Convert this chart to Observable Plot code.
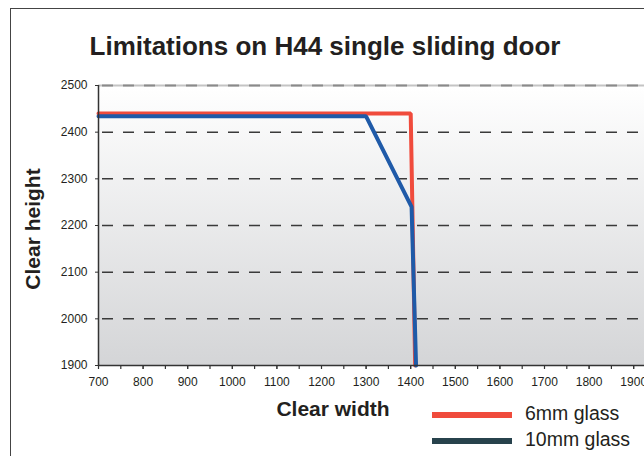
<!DOCTYPE html>
<html>
<head>
<meta charset="utf-8">
<script src="https://cdn.jsdelivr.net/npm/d3@7"></script>
<script src="https://cdn.jsdelivr.net/npm/@observablehq/plot@0.6"></script>
<style>
  html, body { margin: 0; padding: 0; background: #fff; }
  #wrap { position: relative; width: 644px; height: 456px; overflow: hidden; font-family: "Liberation Sans", Arial, sans-serif; }
  #border { position: absolute; left: 10px; top: 8px; width: 700px; height: 520px; border: 1.5px solid #444; box-sizing: border-box; pointer-events: none; }
  .lbl { position: absolute; color: #231f20; white-space: nowrap; }
  #title { left: 325px; top: 46px; font-size: 26px; font-weight: bold; transform: translate(-50%, -50%); }
  #ylab { left: 33px; top: 229px; font-size: 21px; font-weight: bold; transform: translate(-50%, -50%) rotate(-90deg); }
  #xlab { left: 333px; top: 409px; font-size: 21px; font-weight: bold; transform: translate(-50%, -50%); }
  .sw { position: absolute; left: 432px; width: 80px; height: 5.5px; }
  .lt { position: absolute; left: 525px; font-size: 19.5px; transform: translateY(-50%); }
  svg { position: absolute; left: 0; top: 0; }
</style>
</head>
<body>
<div id="wrap">
  <div id="chart"></div>
  <div id="border"></div>
  <div class="lbl" id="title">Limitations on H44 single sliding door</div>
  <div class="lbl" id="ylab">Clear height</div>
  <div class="lbl" id="xlab">Clear width</div>
  <div id="legend"></div>
</div>
<script>
const seriesNames = ["6mm glass", "10mm glass"];
const lineColors = ["#f04b3c", "#1f5aa8"];
const legendColors = ["#f04b3c", "#27424c"];
const widths6 = [700, 1400, 1410];
const heights6 = [2440, 2440, 1900];
const widths10 = [700, 1300, 1402, 1412];
const heights10 = [2434, 2434, 2240, 1900];
const xTicks = [700, 800, 900, 1000, 1100, 1200, 1300, 1400, 1500, 1600, 1700, 1800, 1900, 2000];
const xMinorTicks = d3.range(700, 2001, 50);
const yTicks = [1900, 2000, 2100, 2200, 2300, 2400, 2500];
const dashedGrid = [2000, 2100, 2200, 2300, 2400];

const s6 = widths6.map((w, i) => ({w, h: heights6[i]}));
const s10 = widths10.map((w, i) => ({w, h: heights10[i]}));

const chart = Plot.plot({
  width: 644,
  height: 456,
  marginLeft: 98,
  marginRight: 0,
  marginTop: 85,
  marginBottom: 91,
  x: {type: "linear", domain: [700, 2000], range: [98, 98 + 13 * 44.6]},
  y: {type: "linear", domain: [1900, 2500], range: [365, 85]},
  style: {fontFamily: "'Liberation Sans', Arial, sans-serif", fontSize: "12px", color: "#231f20", background: "transparent"},
  marks: [
    Plot.rect([0], {x1: 700, x2: 2000, y1: 1900, y2: 2500, fill: "url(#bgGrad)"}),
    Plot.ruleY([2500], {x1: 700, x2: 2000, stroke: "#c4c4c4", strokeWidth: 2}),
    Plot.ruleY([2500], {x1: 700, x2: 2000, stroke: "#8a8a8a", strokeWidth: 2, strokeDasharray: "11,10", strokeDashoffset: -4}),
    Plot.ruleY(dashedGrid, {x1: 700, x2: 2000, stroke: "#3a3a3a", strokeWidth: 1.5, strokeDasharray: "11,10", strokeDashoffset: -4}),
    Plot.line(s6, {x: "w", y: "h", stroke: lineColors[0], strokeWidth: 4, strokeLinejoin: "miter"}),
    Plot.line(s10, {x: "w", y: "h", stroke: lineColors[1], strokeWidth: 4, strokeLinejoin: "miter"}),
    Plot.axisX({ticks: xMinorTicks, tickSize: 4, tickFormat: () => "", stroke: "#333", strokeWidth: 1.2, label: null}),
    Plot.axisX({ticks: xTicks, tickSize: 4, tickPadding: 8, tickFormat: d => String(d), stroke: "#333", label: null, fontSize: 12}),
    Plot.axisY({ticks: yTicks, tickSize: 3, tickPadding: 8, tickFormat: d => String(d), stroke: "#333", label: null, fontSize: 12}),
    Plot.ruleY([1900], {x1: 700, x2: 2000, stroke: "#333", strokeWidth: 1.5}),
    Plot.ruleX([700], {y1: 1900, y2: 2500, stroke: "#333", strokeWidth: 1.5})
  ]
});

const svg = d3.select(chart);
const defs = svg.insert("defs", ":first-child");
const grad = defs.append("linearGradient").attr("id", "bgGrad").attr("x1", 0).attr("y1", 0).attr("x2", 0).attr("y2", 1);
grad.append("stop").attr("offset", "0%").attr("stop-color", "#ffffff");
grad.append("stop").attr("offset", "100%").attr("stop-color", "#d4d5d7");
document.getElementById("chart").appendChild(chart);

const legend = document.getElementById("legend");
const legendY = [415, 441];
seriesNames.forEach((name, i) => {
  const sw = document.createElement("div");
  sw.className = "sw";
  sw.style.top = (legendY[i] - 2.75) + "px";
  sw.style.background = legendColors[i];
  legend.appendChild(sw);
  const t = document.createElement("div");
  t.className = "lbl lt";
  t.style.top = (legendY[i] - 2) + "px";
  t.textContent = name;
  legend.appendChild(t);
});
</script>
</body>
</html>
